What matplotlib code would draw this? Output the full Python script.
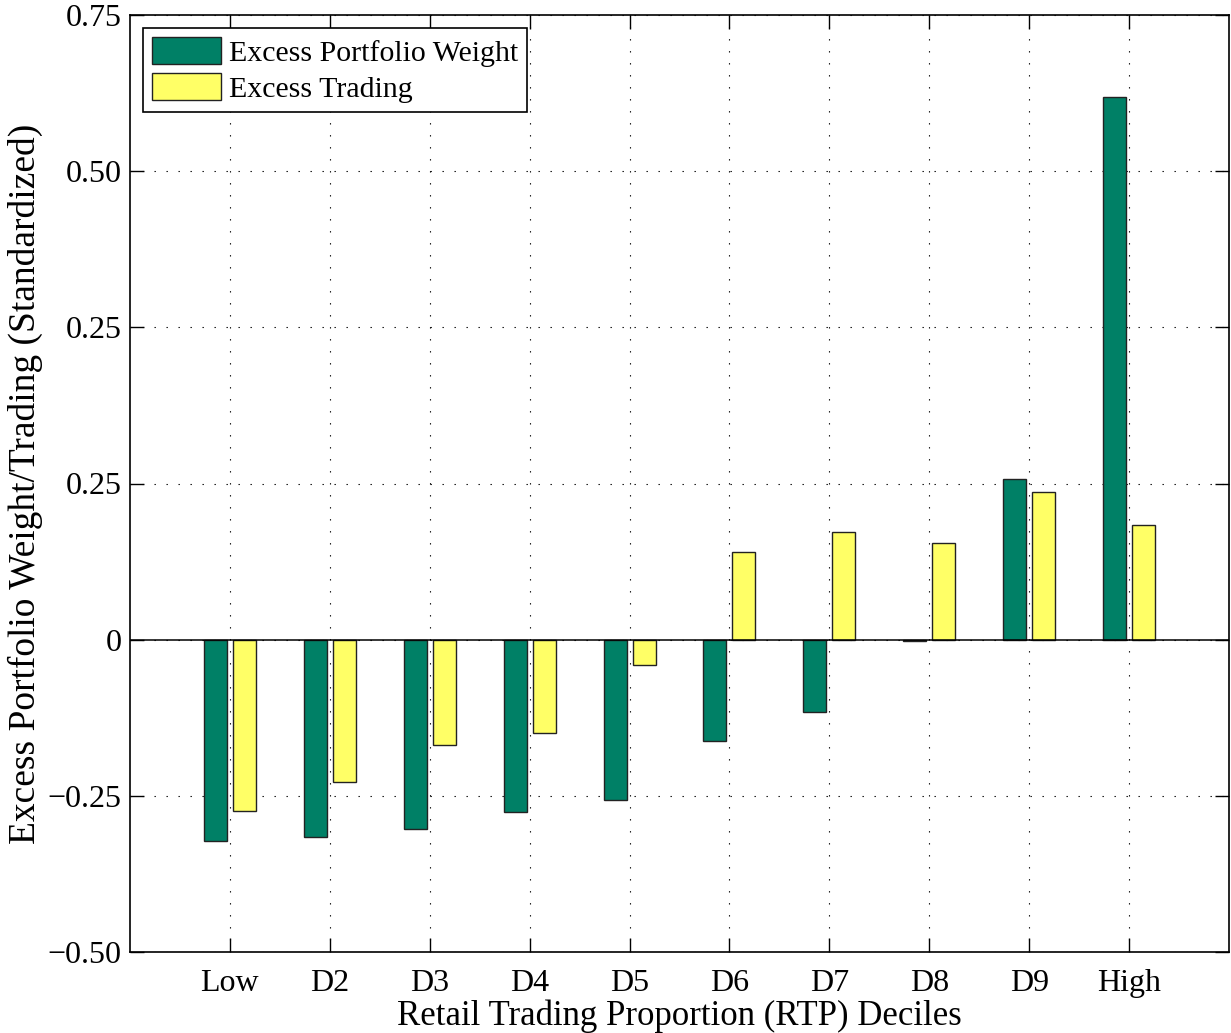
import numpy as np
import matplotlib.pyplot as plt

# deciles and the two series
deciles = ['Low', 'D2', 'D3', 'D4', 'D5', 'D6', 'D7', 'D8', 'D9', 'High']
excess_weight = [-0.322, -0.316, -0.303, -0.276, -0.256, -0.162, -0.115, -0.002, 0.258, 0.869]
excess_trading = [-0.274, -0.228, -0.168, -0.149, -0.040, 0.141, 0.173, 0.155, 0.237, 0.184]

# y tick labels as printed on the original figure
ytick_vals = [-0.5, -0.25, 0, 0.25, 0.5, 0.75, 1.0]
ytick_labels = ['\u22120.50', '\u22120.25', '0', '0.25', '0.25', '0.50', '0.75']

green = '#008066'
yellow = '#FFFF66'

plt.rcParams['font.family'] = ['Liberation Serif', 'DejaVu Serif']

fig = plt.figure(figsize=(12.31, 10.33), dpi=100)
ax = fig.add_axes([130 / 1231, 81 / 1033, 1099 / 1231, 937 / 1033])

x = np.arange(1, len(deciles) + 1)
w = 0.23
ax.bar(x - 0.145, excess_weight, w, color=green, edgecolor='#222222', linewidth=1.0,
       label='Excess Portfolio Weight', zorder=3)
ax.bar(x + 0.145, excess_trading, w, color=yellow, edgecolor='#222222', linewidth=1.0,
       label='Excess Trading', zorder=3)

ax.axhline(0, color='black', linewidth=1.1, zorder=4)

ax.set_xlim(0, 11)
ax.set_ylim(-0.5, 1.0)
ax.set_xticks(x)
ax.set_xticklabels(deciles)
ax.set_yticks(ytick_vals)
ax.set_yticklabels(ytick_labels)

ax.grid(True, color='black', linestyle=(0, (1.2, 9.6)), linewidth=0.8, zorder=0)
ax.tick_params(direction='in', length=10, width=1, top=True, right=True,
               labelsize=23)
ax.tick_params(axis='y', pad=6)
ax.tick_params(axis='x', pad=12)
for s in ax.spines.values():
    s.set_linewidth(1.2)

ax.set_xlabel('Retail Trading Proportion (RTP) Deciles', fontsize=25, labelpad=1)
ax.set_ylabel('Excess Portfolio Weight/Trading (Standardized)', fontsize=27, labelpad=3)

leg = ax.legend(loc='upper left', fontsize=21.5, frameon=True, fancybox=False,
                edgecolor='black', framealpha=1, borderaxespad=0.45,
                handlelength=2.3, handleheight=1.0, handletextpad=0.25,
                labelspacing=0.2, borderpad=0.3)
leg.get_frame().set_linewidth(1.2)

fig.savefig('out.png', dpi=100)
